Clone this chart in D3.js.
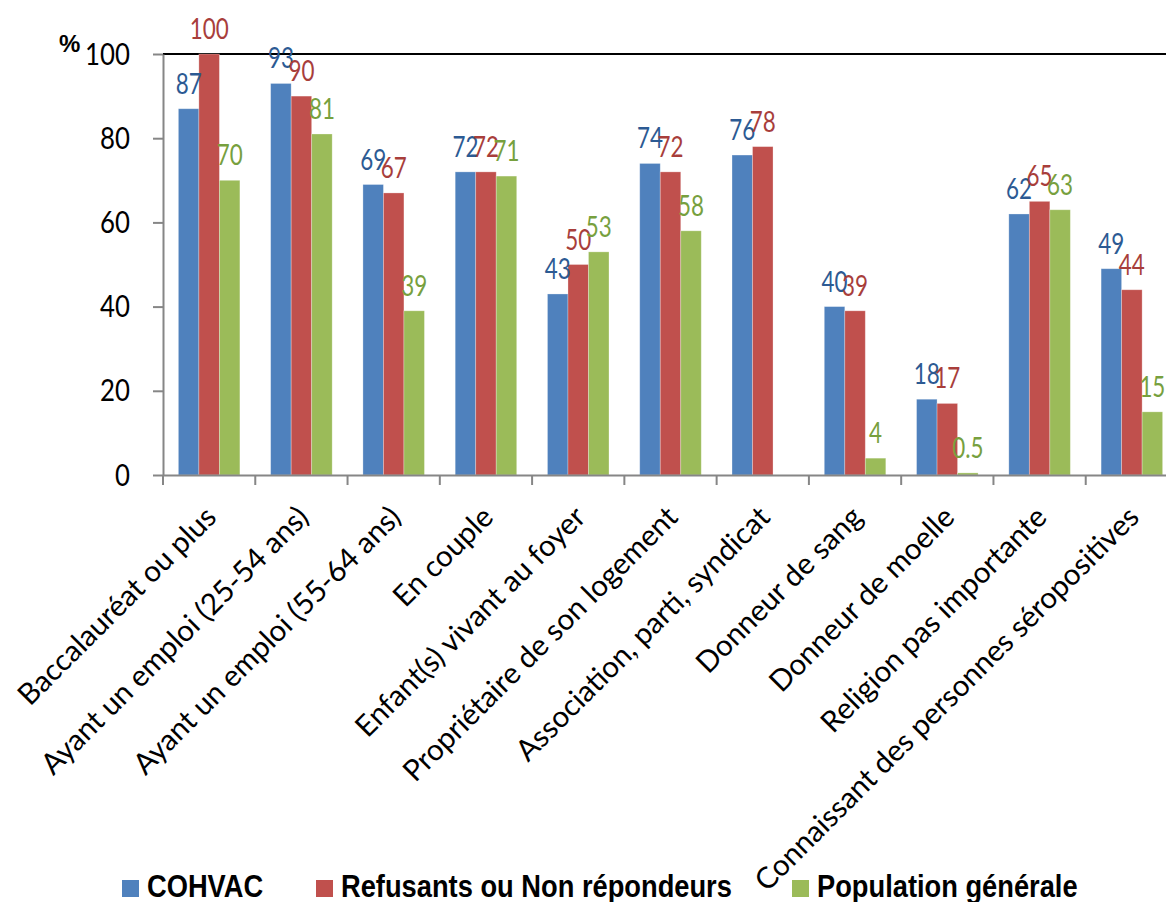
<!DOCTYPE html>
<html><head><meta charset="utf-8">
<script src="https://cdn.jsdelivr.net/npm/d3@7"></script>
<style>body{margin:0;background:#fff}svg{display:block}</style>
</head><body>
<svg id="c" width="1166" height="902"></svg>
<script>
const categories = ["Baccalauréat ou plus","Ayant un emploi (25-54 ans)","Ayant un emploi (55-64 ans)","En couple","Enfant(s) vivant au foyer","Propriétaire de son logement","Association, parti, syndicat","Donneur de sang","Donneur de moelle","Religion pas importante","Connaissant des personnes séropositives"];
const seriesNames = ["COHVAC","Refusants ou Non répondeurs","Population générale"];
const cohvac = [87,93,69,72,43,74,76,40,18,62,49];
const refusants = [100,90,67,72,50,72,78,39,17,65,44];
const population = [70,81,39,71,53,58,null,4,0.5,63,15];
const yTicks = [0,20,40,60,80,100];

const colors = ["#4F81BD","#C0504D","#9BBB59"];
const labelColors = ["#2C5A93","#A83E3B","#77A03E"];
const values = [cohvac, refusants, population];

const svg = d3.select("#c");
const y = d3.scaleLinear().domain([0,100]).range([475,54]);
const x = d3.scaleBand().domain(categories).range([163,1178]).paddingInner(0).paddingOuter(0);
const bw = x.bandwidth();
const xs = d3.scaleBand().domain(seriesNames).range([bw/6, bw*5/6]);

// top line
svg.append("line").attr("x1",163).attr("x2",1166).attr("y1",y(100)).attr("y2",y(100)).attr("stroke","#000").attr("stroke-width",2);

// bars
seriesNames.forEach((s,si)=>{
  const g = svg.append("g");
  categories.forEach((c,ci)=>{
    const v = values[si][ci];
    if (v==null) return;
    g.append("rect").attr("x",x(c)+xs(s)).attr("width",xs.bandwidth())
      .attr("y",y(v)).attr("height",y(0)-y(v)).attr("fill",colors[si])
      .attr("stroke","#ffffff").attr("stroke-opacity",0.35).attr("stroke-width",0.8);
  });
});

// y axis
const yAxis = d3.axisLeft(y).tickValues(yTicks).tickSize(10).tickSizeOuter(0).tickFormat("");
const ga = svg.append("g").attr("transform","translate(163,0)").call(yAxis);
ga.select(".domain").attr("stroke","#868686").attr("stroke-width",2);
ga.selectAll(".tick line").attr("stroke","#868686").attr("stroke-width",2);
ga.selectAll(".tick").append("g").attr("transform","translate(-33,10)")
  .append("text").attr("transform","scale(0.86,1)").attr("text-anchor","end")
  .attr("font-family","Lato, sans-serif").attr("font-size",30).attr("fill","#000").text(d=>d);

// x axis
const xAxis = d3.axisBottom(x).tickSize(10).tickSizeOuter(0).tickFormat("");
const gx = svg.append("g").attr("transform",`translate(0,${y(0)})`).call(xAxis);
gx.select(".domain").attr("stroke","#868686").attr("stroke-width",2);
gx.selectAll(".tick").attr("transform",d=>`translate(${x(d)},0)`);
gx.selectAll(".tick line").attr("stroke","#868686").attr("stroke-width",2);
gx.append("line").attr("x1",1177).attr("x2",1177).attr("y1",0).attr("y2",10).attr("stroke","#868686").attr("stroke-width",2);

// category labels
svg.append("g").selectAll("text").data(categories).join("text")
  .attr("transform",d=>`translate(${x(d)+bw/2+9},${y(0)+44}) rotate(-45)`)
  .attr("text-anchor","end")
  .attr("font-family","Lato, sans-serif").attr("font-size",29.5).attr("fill","#000")
  .text(d=>d);

// data labels
seriesNames.forEach((s,si)=>{
  categories.forEach((c,ci)=>{
    const v = values[si][ci];
    if (v==null) return;
    svg.append("g").attr("transform",`translate(${x(c)+xs(s)+xs.bandwidth()/2},${y(v)-15})`)
      .append("text").attr("transform","scale(0.8,1)")
      .attr("text-anchor","middle").attr("font-family","Lato, sans-serif").attr("font-size",28)
      .attr("fill",labelColors[si]).text(v);
  });
});

// % label
svg.append("text").attr("x",59).attr("y",52).attr("font-family","Liberation Sans, sans-serif").attr("font-weight","bold").attr("font-size",24).text("%");

// legend
const legendX = [122,316,792];
seriesNames.forEach((s,i)=>{
  svg.append("rect").attr("x",legendX[i]).attr("y",880).attr("width",17).attr("height",17).attr("fill",colors[i]);
  svg.append("g").attr("transform",`translate(${legendX[i]+25},897)`)
    .append("text").attr("transform","scale(0.88,1)").attr("font-family","Liberation Sans Narrow, sans-serif")
    .attr("font-weight","bold").attr("font-size",31).attr("fill","#000").text(s);
});
</script>
</body></html>
